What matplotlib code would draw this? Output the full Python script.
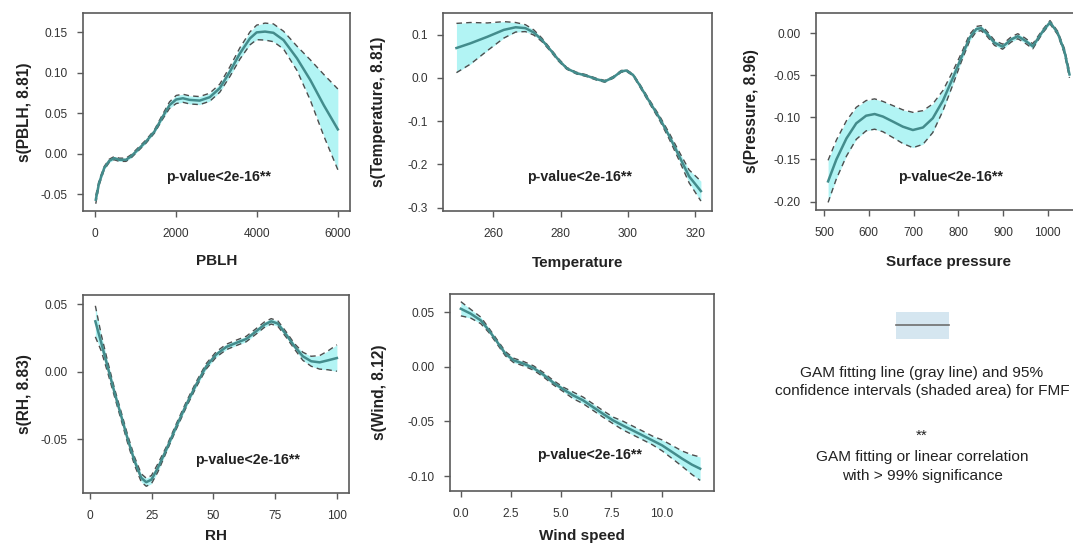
import matplotlib
matplotlib.use("Agg")
import matplotlib.pyplot as plt
from matplotlib.patches import Rectangle
import numpy as np

plt.rcParams['font.family'] = ['Liberation Sans', 'DejaVu Sans']
plt.rcParams['axes.unicode_minus'] = False

# --- values (fit line and half width of the 95% band) ---
pblh_x = [25, 108, 232, 356, 480, 604, 770, 894, 1059, 1266, 1473, 1680, 1845, 2011, 2176,
          2342, 2590, 2838, 3086, 3335, 3583, 3831, 3996, 4203, 4410, 4659, 4990, 5321, 5652, 6000]
pblh_fit = [-0.057, -0.036, -0.018, -0.009, -0.0056, -0.0076, -0.0076, -0.0035, 0.0047, 0.015,
            0.0274, 0.046, 0.060, 0.067, 0.0685, 0.0665, 0.0656, 0.0698, 0.081, 0.1014, 0.124,
            0.1426, 0.150, 0.151, 0.1495, 0.1405, 0.118, 0.091, 0.060, 0.030]
pblh_se = [0.005, 0.003, 0.002, 0.002, 0.002, 0.002, 0.002, 0.002, 0.002, 0.002, 0.002, 0.003,
           0.004, 0.005, 0.005, 0.005, 0.005, 0.005, 0.005, 0.006, 0.007, 0.008, 0.009, 0.0105,
           0.011, 0.011, 0.015, 0.025, 0.038, 0.05]

temp_x = [249.0, 253.2, 258.2, 263.1, 266.6, 269.5, 272.0, 274.4, 276.9, 279.3, 281.8, 284.7,
          287.7, 290.6, 293.1, 295.6, 298.0, 299.5, 301.5, 303.4, 306.4, 309.4, 312.3, 315.3,
          318.2, 321.7]
temp_fit = [0.069, 0.080, 0.095, 0.111, 0.117, 0.115, 0.105, 0.088, 0.065, 0.042, 0.022, 0.011,
            0.005, -0.003, -0.008, 0.001, 0.015, 0.017, 0.007, -0.016, -0.055, -0.093, -0.135,
            -0.182, -0.228, -0.262]
temp_se = [0.057, 0.048, 0.032, 0.019, 0.011, 0.008, 0.006, 0.004, 0.003, 0.003, 0.002, 0.002,
           0.002, 0.002, 0.002, 0.002, 0.002, 0.002, 0.002, 0.003, 0.004, 0.005, 0.007, 0.010,
           0.015, 0.023]

pres_x = [509, 527.5, 550, 572, 594, 613, 631.5, 654, 676, 698.5, 721, 743, 765.8, 788, 806.7,
          825, 840.3, 851, 862.5, 881, 899, 918, 933, 948, 966.5, 988.8, 1005, 1022, 1037, 1048.5]
pres_fit = [-0.176, -0.150, -0.125, -0.107, -0.098, -0.096, -0.099, -0.105, -0.111, -0.115,
            -0.112, -0.101, -0.080, -0.053, -0.029, -0.0056, 0.005, 0.006, 0.0004, -0.0115,
            -0.016, -0.0075, -0.0036, -0.0083, -0.0155, 0.0024, 0.013, 0.0004, -0.021, -0.049]
pres_se = [0.025, 0.023, 0.021, 0.019, 0.018, 0.018, 0.018, 0.019, 0.020, 0.021, 0.020, 0.017,
           0.012, 0.008, 0.005, 0.004, 0.003, 0.003, 0.003, 0.003, 0.003, 0.003, 0.003, 0.003,
           0.003, 0.002, 0.002, 0.002, 0.003, 0.004]

rh_x = [2.2, 4.6, 7.3, 10.0, 12.7, 15.4, 18.1, 20.8, 22.8, 24.9, 27.5, 30.9, 35, 39, 43, 47.1,
        51.1, 55.2, 59.2, 63.3, 67.3, 70.7, 73.4, 76.1, 79.5, 82.8, 86.2, 89.6, 93.0, 96.4, 100]
rh_fit = [0.0374, 0.0214, 0.0028, -0.0157, -0.033, -0.0506, -0.0663, -0.0786, -0.0818, -0.0799,
          -0.0712, -0.0577, -0.0404, -0.0243, -0.0095, 0.0041, 0.0128, 0.0184, 0.0214, 0.0243,
          0.030, 0.035, 0.0374, 0.0357, 0.0275, 0.0189, 0.0115, 0.0078, 0.0070, 0.0085, 0.0102]
rh_se = [0.0115, 0.006, 0.004, 0.003, 0.003, 0.003, 0.003, 0.003, 0.003, 0.003, 0.003, 0.002,
         0.002, 0.002, 0.002, 0.002, 0.002, 0.002, 0.002, 0.002, 0.002, 0.002, 0.002, 0.002,
         0.002, 0.002, 0.003, 0.0037, 0.005, 0.007, 0.0098]

wind_x = [0, 0.49, 0.99, 1.4, 1.81, 2.22, 2.63, 3.13, 3.62, 4.11, 4.61, 5.1, 5.59, 6.09, 6.58,
          7.07, 7.57, 8.06, 8.55, 9.05, 9.54, 10.03, 10.53, 11.02, 11.51, 11.92]
wind_fit = [0.053, 0.0485, 0.0424, 0.0332, 0.0226, 0.0119, 0.0058, 0.0027, -0.0012, -0.0073,
            -0.0146, -0.0207, -0.0262, -0.0308, -0.0369, -0.043, -0.049, -0.0537, -0.0582,
            -0.0628, -0.0674, -0.072, -0.0781, -0.0841, -0.0896, -0.0933]
wind_se = [0.0065, 0.004, 0.003, 0.002, 0.002, 0.002, 0.002, 0.002, 0.002, 0.002, 0.002, 0.002,
           0.003, 0.003, 0.003, 0.003, 0.003, 0.004, 0.004, 0.004, 0.004, 0.005, 0.006, 0.007,
           0.009, 0.0107]

# ticks and labels
pblh_xt, pblh_yt = [0, 2000, 4000, 6000], [-0.05, 0.0, 0.05, 0.10, 0.15]
temp_xt, temp_yt = [260, 280, 300, 320], [-0.3, -0.2, -0.1, 0.0, 0.1]
pres_xt, pres_yt = [500, 600, 700, 800, 900, 1000], [-0.20, -0.15, -0.10, -0.05, 0.00]
rh_xt, rh_yt = [0, 25, 50, 75, 100], [-0.05, 0.00, 0.05]
wind_xt, wind_yt = [0, 2.5, 5, 7.5, 10], [-0.10, -0.05, 0.00, 0.05]

panels = [
    # x, fit, se, xticks, yticks, xfmt, yfmt, xlabel, ylabel
    (pblh_x, pblh_fit, pblh_se, pblh_xt, pblh_yt, '{:.0f}', '{:.2f}', 'PBLH', 's(PBLH, 8.81)'),
    (temp_x, temp_fit, temp_se, temp_xt, temp_yt, '{:.0f}', '{:.1f}', 'Temperature', 's(Temperature, 8.81)'),
    (pres_x, pres_fit, pres_se, pres_xt, pres_yt, '{:.0f}', '{:.2f}', 'Surface pressure', 's(Pressure, 8.96)'),
    (rh_x, rh_fit, rh_se, rh_xt, rh_yt, '{:.0f}', '{:.2f}', 'RH', 's(RH, 8.83)'),
    (wind_x, wind_fit, wind_se, wind_xt, wind_yt, '{:.1f}', '{:.2f}', 'Wind speed', 's(Wind, 8.12)'),
]

# layout in pixels: left, right, top, bottom; limits; label offsets
W, H = 1073, 545
boxes = [(83, 350, 13, 211), (443, 712, 13, 211), (816, 1080, 13, 210),
         (83, 349, 295, 493), (450, 714, 294, 491)]
xlims = [(-290, 6300), (245.0, 325.0), (482, 1072), (-2.8, 104.9), (-0.54, 12.61)]
ylims = [(-0.071, 0.174), (-0.308, 0.150), (-0.210, 0.024), (-0.0898, 0.0569), (-0.1137, 0.0665)]
xlab_y = [-0.215, -0.225, -0.23, -0.183, -0.193]
ylab_x = [-0.19, -0.211, -0.215, -0.191, -0.239]
ptxt = [(0.506, 0.172), (0.509, 0.172), (0.508, 0.167), (0.62, 0.167), (0.527, 0.183)]

fill_col = '#b2f4f4'
line_col = '#438c8c'
dash_col = '#4d4d4d'
frame_col = '#5a5a5a'

fig = plt.figure(figsize=(W / 100, H / 100), dpi=100)

for i, (x, fit, se, xt, yt, xf, yf, xl, yl) in enumerate(panels):
    l, r, t, b = boxes[i]
    ax = fig.add_axes([l / W, 1 - b / H, (r - l) / W, (b - t) / H])
    x = np.array(x)
    fit = np.array(fit)
    se = np.array(se)
    ax.fill_between(x, fit - se, fit + se, color=fill_col, lw=0)
    ax.plot(x, fit + se, color=dash_col, lw=1.0, ls=(0, (4, 3)))
    ax.plot(x, fit - se, color=dash_col, lw=1.0, ls=(0, (4, 3)))
    ax.plot(x, fit, color=line_col, lw=1.8)
    ax.set_xlim(*xlims[i])
    ax.set_ylim(*ylims[i])
    ax.set_xticks(xt)
    ax.set_xticklabels([xf.format(v) for v in xt])
    ax.set_yticks(yt)
    ax.set_yticklabels([yf.format(v) for v in yt])
    ax.tick_params(direction='out', length=4, width=1, color=frame_col,
                   labelsize=8.6, labelcolor='#333333')
    ax.tick_params(axis='x', pad=8)
    ax.tick_params(axis='y', pad=7)
    for s in ax.spines.values():
        s.set_color(frame_col)
        s.set_linewidth(1.2)
    ax.set_xlabel(xl, fontsize=11, fontweight='bold', color='#222222')
    ax.set_ylabel(yl, fontsize=11.2, fontweight='bold', color='#222222')
    ax.xaxis.set_label_coords(0.5, xlab_y[i])
    ax.yaxis.set_label_coords(ylab_x[i], 0.5)
    ax.text(ptxt[i][0], ptxt[i][1], 'p-value<2e-16**', transform=ax.transAxes,
            ha='center', va='center', fontsize=10.2, fontweight='bold', color='#222222')

# legend block
fig.patches.append(Rectangle((896 / W, 1 - 339 / H), 53 / W, 27 / H,
                             transform=fig.transFigure, color='#d5e6f0', lw=0))
fig.lines.append(plt.Line2D([896 / W, 949 / W], [1 - 325 / H, 1 - 325 / H],
                            transform=fig.transFigure, color='#6e6e6e', lw=1.2))
leg_lines = [('GAM fitting line (gray line) and 95%', 373),
             ('confidence intervals (shaded area) for FMF', 391),
             ('**', 436),
             ('GAM fitting or linear correlation', 457),
             ('with > 99% significance', 476)]
for txt, yy in leg_lines:
    fig.text(922 / W, 1 - yy / H, txt, ha='center', va='center', fontsize=11.1,
             color='#222222')

fig.savefig('out.png', dpi=100)
